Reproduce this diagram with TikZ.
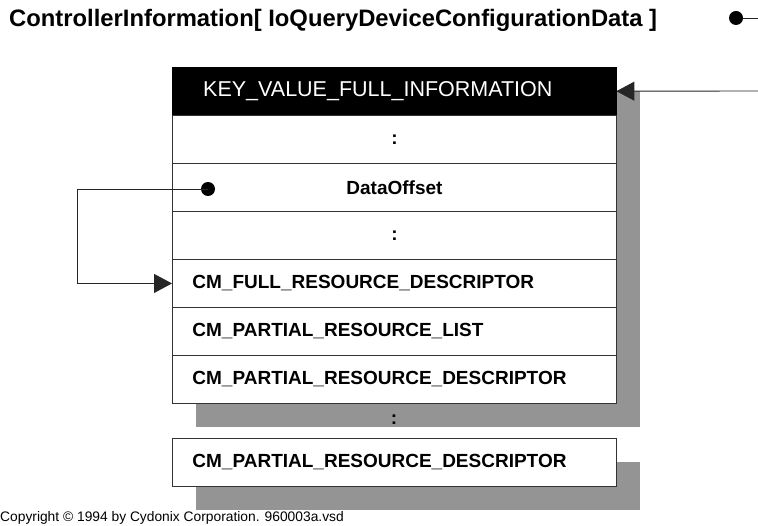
\documentclass[tikz,border=0pt]{standalone}
\usepackage{fontspec}
\setmainfont{Liberation Sans}
\usetikzlibrary{arrows.meta}
\begin{document}
\begin{tikzpicture}[x=1pt,y=-1pt,
  rowbox/.style={draw=black!80, line width=0.9pt, fill=white, minimum height=48pt,
    text width=404pt, inner xsep=20pt, inner ysep=0pt, anchor=north west,
    font=\fontsize{19}{19}\selectfont\bfseries},
  midbox/.style={rowbox, align=center},
  leftbox/.style={rowbox, align=left},
  hdrbox/.style={draw=black, fill=black, text=white, minimum height=48pt,
    text width=382pt, inner xsep=31pt, inner ysep=0pt, align=left, anchor=north west,
    font=\fontsize{21.5}{21.5}\selectfont},
  shade/.style={fill=black!42},
  dot/.style={circle, fill=black, inner sep=0pt, minimum size=14pt},
  conn/.style={draw=black!85, line width=0.9pt},
  tip/.style={-{Triangle[length=18pt,width=19pt]}}
]
\useasboundingbox (0,0) rectangle (758,526);

% title
\node[anchor=base west, inner sep=0pt, font=\fontsize{23.8}{23.8}\selectfont\bfseries]
  (title) at (9,27) {ControllerInformation[ IoQueryDeviceConfigurationData ]};
\node[dot] (d0) at (736,18) {};
\coordinate (tout) at (758,18);
\draw[conn] (d0) -- (tout);

% shadows
\fill[shade] (196,91) rectangle (640,427);
\fill[shade] (196,462) rectangle (640,510);

% main structure
\node[hdrbox] (hdr) at (172,67) {KEY\_VALUE\_FULL\_INFORMATION};
\node[midbox] (r1) at (172,115) {:};
\node[midbox] (r2) at (172,163) {DataOffset};
\node[midbox] (r3) at (172,211) {:};
\node[leftbox] (r4) at (172,259) {CM\_FULL\_RESOURCE\_DESCRIPTOR};
\node[leftbox] (r5) at (172,307) {CM\_PARTIAL\_RESOURCE\_LIST};
\node[leftbox] (r6) at (172,355) {CM\_PARTIAL\_RESOURCE\_DESCRIPTOR};
\node[font=\fontsize{19}{19}\selectfont\bfseries, inner sep=0pt] (gap) at (394,420) {:};
\node[leftbox] (r7) at (172,438) {CM\_PARTIAL\_RESOURCE\_DESCRIPTOR};

% incoming arrow from right
\coordinate (rin) at (758,91);
\draw[conn, tip] (rin) -- (hdr.east);

% DataOffset pointer
\node[dot] (d1) at (208,189) {};
\coordinate (bendA) at (77,189);
\draw[conn, tip] (d1.center) -- (bendA) |- (r4.west);

% copyright
\node[anchor=base west, inner sep=0pt, font=\fontsize{13.8}{13.8}\selectfont]
  (copy) at (0,521) {Copyright © 1994 by Cydonix Corporation. 960003a.vsd};
\end{tikzpicture}
\end{document}
